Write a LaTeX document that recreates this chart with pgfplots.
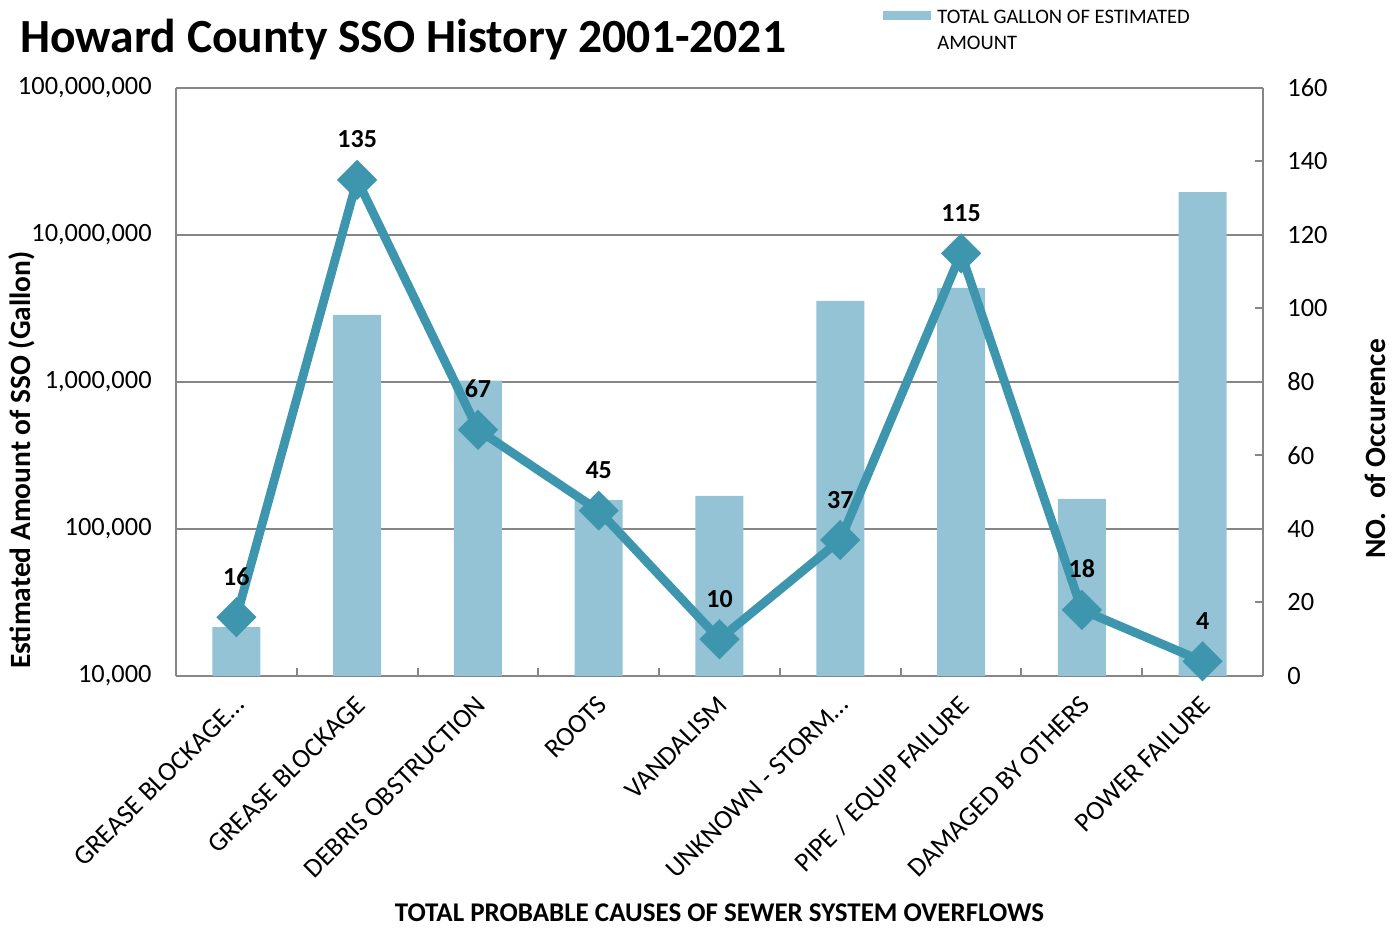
\documentclass[border=0pt]{standalone}
\usepackage{fontspec}
\setmainfont{Carlito}
\usepackage{pgfplots}
\pgfplotsset{compat=1.18}
\definecolor{barblue}{RGB}{147,195,213}
\definecolor{lineblue}{RGB}{62,150,174}
\definecolor{gridgray}{RGB}{134,134,134}
\newcommand{\fs}[2]{\fontsize{#1}{#2}\selectfont}
\begin{document}
\begin{tikzpicture}
\path[use as bounding box] (-88bp,-126bp) rectangle (612bp,338bp);
\begin{axis}[
  at={(0bp,0bp)}, anchor=south west,
  scale only axis, width=543.5bp, height=294bp,
  xmin=-0.5, xmax=8.5,
  ymode=log, ymin=1e4, ymax=1e8, log origin=infty,
  ybar, bar width=24bp,
  axis x line*=bottom, axis y line*=left,
  ytick={1e4,1e5,1e6,1e7,1e8},
  yticklabels={{10,000},{100,000},{1,000,000},{10,000,000},{100,000,000}},
  yminorticks=false,
  ymajorgrids, major grid style={gridgray, line width=1bp},
  axis line style={gridgray, line width=1bp},
  tick align=inside,
  xtick={0,...,8},
  xticklabels={GREASE BLOCKAGE…,GREASE BLOCKAGE,DEBRIS OBSTRUCTION,ROOTS,VANDALISM,UNKNOWN - STORM…,PIPE / EQUIP FAILURE,DAMAGED BY OTHERS,POWER FAILURE},
  major x tick style={draw=none},
  minor xtick={0.5,1.5,...,7.5},
  minor x tick style={gridgray, line width=1bp},
  minor tick length=4bp,
  major tick length=6bp,
  y tick style={gridgray, line width=1bp},
  xticklabel style={rotate=45, anchor=north east, inner sep=0pt, xshift=-7.35bp, yshift=-5.2bp, font=\fs{13.5bp}{16bp}},
  yticklabel style={inner sep=0pt, xshift=-12bp, font=\fs{13.2bp}{16bp}},
  xlabel={TOTAL PROBABLE CAUSES OF SEWER SYSTEM OVERFLOWS},
  xlabel style={at={(axis description cs:0.5,0)}, anchor=center, yshift=-118.5bp, font=\bfseries\fs{13.5bp}{16bp}},
  ylabel={Estimated Amount of SSO (Gallon)},
  ylabel style={at={(axis description cs:0,0.367)}, anchor=center, yshift=77bp, font=\bfseries\fs{14.7bp}{17bp}},
  legend style={at={(axis description cs:0.6495,1)}, anchor=north west, yshift=41bp, xshift=0.5bp, draw=none, fill=none, inner sep=0pt, font=\fs{10.3bp}{13bp}, cells={align=left}},
  legend cell align=left,
  legend image code/.code={\fill[barblue] (0bp,5.75bp) rectangle (24bp,10.25bp);},
]
\addplot[fill=barblue, draw=none] coordinates {
  (0,21500) (1,2860000) (2,1020000) (3,157000) (4,168000) (5,3560000) (6,4360000) (7,160000) (8,19600000)};
\addlegendentry{\hspace{1bp}TOTAL GALLON OF ESTIMATED\\\hspace{1bp}AMOUNT}
\end{axis}
\begin{axis}[
  at={(0bp,0bp)}, anchor=south west,
  scale only axis, width=543.5bp, height=294bp,
  xmin=-0.5, xmax=8.5,
  ymin=0, ymax=160,
  axis x line=none, axis y line*=right,
  axis line style={gridgray, line width=1bp},
  ytick={0,20,40,60,80,100,120,140,160},
  yticklabels={0,20,40,60,80,100,120,140,160},
  tick align=inside, major tick length=4bp,
  y tick style={gridgray, line width=1bp},
  yticklabel style={inner sep=0pt, anchor=west, xshift=12bp, font=\fs{13.2bp}{16bp}},
  ylabel={NO.\ \ of Occurence},
  ylabel style={at={(axis description cs:1,0.386)}, anchor=center, yshift=-56bp, font=\bfseries\fs{14.7bp}{17bp}},
  clip=false,
  nodes near coords,
  /pgf/number format/assume math mode=true,
  every node near coord/.append style={anchor=base, yshift=16bp, text=black, font=\bfseries\fs{13bp}{16bp}},
]
\addplot[lineblue, line width=4.4bp, mark=square*, mark size=4.9bp, mark options={rotate=45, fill=lineblue, draw=none}] coordinates {
  (0,16) (1,135) (2,67) (3,45) (4,10) (5,37) (6,115) (7,18) (8,4)};
\end{axis}
\node[anchor=base west, inner sep=0pt, font=\bfseries\fs{23.8bp}{28bp}] at (-78bp,311.5bp) {Howard County SSO History 2001-2021};
\end{tikzpicture}
\end{document}
